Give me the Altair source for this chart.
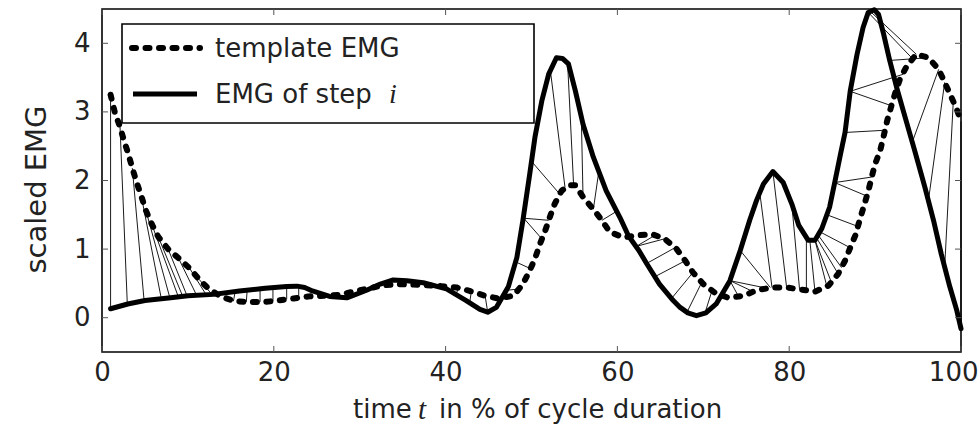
import altair as alt
import pandas as pd

# ---------------- data ----------------
step_t = [1.0, 3.0, 5.0, 8.0, 10.0, 13.0, 16.0, 19.0, 21.5, 22.7,
          23.6, 24.5, 26.5, 28.5, 30.8, 32.4, 33.9, 35.5, 37.4, 40.1,
          42.4, 44.0, 44.9, 45.9, 47.3, 48.3, 49.0, 49.8, 50.4, 51.2,
          52.0, 52.9, 53.6, 54.3, 55.1, 56.0, 57.2, 58.7, 60.3, 61.3,
          62.5, 63.4, 64.9, 66.5, 67.3, 68.2, 69.2, 70.3, 71.5, 73.1,
          74.3, 75.4, 76.2, 77.0, 78.1, 79.3, 80.3, 81.1, 82.2, 83.0,
          83.8, 84.7, 85.3, 86.0, 86.5, 87.1, 87.9, 88.6, 89.2, 89.9,
          90.4, 91.0, 91.7, 92.5, 93.5, 94.6, 95.8, 96.8, 97.7, 98.7,
          99.5, 100.0]
step_emg = [0.13, 0.20, 0.25, 0.29, 0.32, 0.34, 0.39, 0.43, 0.455, 0.46,
            0.44, 0.39, 0.31, 0.29, 0.40, 0.49, 0.55, 0.54, 0.51, 0.42,
            0.25, 0.12, 0.08, 0.15, 0.45, 0.88, 1.42, 2.10, 2.63, 3.16,
            3.55, 3.79, 3.78, 3.70, 3.31, 2.82, 2.34, 1.85, 1.46, 1.19,
            0.98, 0.79, 0.49, 0.25, 0.15, 0.07, 0.03, 0.07, 0.20, 0.54,
            0.98, 1.42, 1.71, 1.95, 2.13, 1.97, 1.66, 1.35, 1.13, 1.13,
            1.30, 1.61, 1.97, 2.40, 2.70, 3.30, 3.84, 4.23, 4.45, 4.49,
            4.42, 4.13, 3.75, 3.36, 2.92, 2.44, 1.90, 1.42, 0.93, 0.45,
            0.11, -0.16]

tmpl_t = [1.0, 1.5, 2.1, 2.56, 3.06, 3.53, 4.04, 4.58, 5.12, 5.77,
          6.55, 7.7, 8.9, 10.2, 11.3, 12.5, 14.0, 15.5, 17.0, 19.0,
          20.5, 22.3, 24.0, 27.5, 30.0, 32.7, 34.3, 37.0, 39.5, 41.3,
          42.8, 44.6, 46.1, 47.9, 49.0, 49.8, 50.4, 51.0, 51.6, 52.2,
          52.7, 53.5, 54.3, 55.1, 56.0, 57.2, 58.2, 59.1, 60.7, 62.4,
          64.0, 65.5, 66.9, 67.9, 68.8, 70.0, 71.4, 72.9, 74.7, 76.2,
          78.0, 79.7, 81.4, 83.0, 84.6, 85.7, 86.5, 87.1, 87.7, 88.2,
          88.7, 89.2, 89.6, 90.0, 90.6, 91.0, 91.4, 91.9, 92.4, 92.9,
          93.7, 94.8, 96.2, 97.4, 98.1, 98.9, 99.5, 100.0]
tmpl_emg = [3.25, 2.99, 2.78, 2.58, 2.39, 2.18, 1.97, 1.77, 1.56, 1.37,
            1.18, 1.00, 0.87, 0.72, 0.56, 0.41, 0.30, 0.24, 0.23, 0.23,
            0.25, 0.28, 0.31, 0.33, 0.40, 0.47, 0.49, 0.48, 0.46, 0.44,
            0.39, 0.32, 0.28, 0.32, 0.49, 0.69, 0.86, 1.08, 1.27, 1.49,
            1.66, 1.85, 1.93, 1.93, 1.76, 1.58, 1.42, 1.25, 1.17, 1.20,
            1.22, 1.15, 1.00, 0.83, 0.66, 0.49, 0.36, 0.29, 0.32, 0.40,
            0.44, 0.44, 0.41, 0.38, 0.47, 0.64, 0.83, 1.02, 1.20, 1.42,
            1.63, 1.84, 2.05, 2.24, 2.44, 2.65, 2.87, 3.09, 3.30, 3.48,
            3.67, 3.84, 3.79, 3.62, 3.43, 3.21, 3.04, 2.86]

# alignment links: template point (link_t1, link_y1) -> step point (link_t2, link_y2)
link_t1 = [1.0, 2.1, 3.53, 4.58, 5.12, 5.77, 6.55, 7.7, 8.9, 10.2, 11.3,
           15.3, 16.8, 18.4, 19.9, 21.5, 22.9, 41.5, 43.0, 44.6,
           48.7, 49.8, 51.2, 52.0, 53.3, 53.9, 54.9, 56.0, 57.2, 58.2,
           64.5, 65.5, 66.7, 67.9, 68.8, 69.8, 71.0, 74.1, 75.8, 77.4, 77.8, 78.0,
           79.7, 81.2, 82.0, 83.0, 84.4, 84.9, 85.7, 86.1, 87.1, 87.8, 88.9, 89.6,
           90.8, 91.9, 93.3, 94.4, 94.8, 96.2, 97.4, 98.1, 99.1, 100.0]
link_y1 = [3.25, 2.78, 2.18, 1.77, 1.56, 1.37, 1.18, 1.00, 0.87, 0.72, 0.56,
           0.24, 0.23, 0.23, 0.24, 0.27, 0.29, 0.43, 0.38, 0.32,
           0.42, 0.72, 1.15, 1.42, 1.80, 1.90, 1.94, 1.76, 1.58, 1.42,
           1.21, 1.15, 1.02, 0.83, 0.66, 0.51, 0.39, 0.31, 0.38, 0.43, 0.44, 0.44,
           0.44, 0.42, 0.40, 0.38, 0.45, 0.52, 0.64, 0.73, 1.02, 1.34, 1.78, 2.05,
           2.73, 3.09, 3.55, 3.77, 3.84, 3.79, 3.62, 3.43, 3.15, 2.86]
link_t2 = [1.0, 2.95, 4.9, 6.9, 7.9, 8.9, 9.4, 9.9, 11.0, 12.1, 12.8,
           15.5, 16.9, 18.4, 19.9, 21.5, 22.9, 41.2, 42.8, 44.9,
           47.1, 48.4, 49.1, 49.1, 50.0, 52.2, 54.2, 55.8, 57.8, 59.9,
           62.2, 62.2, 63.4, 64.4, 66.3, 68.1, 70.2, 73.1, 73.1, 73.1, 74.3, 76.6,
           78.1, 80.3, 82.0, 82.4, 83.0, 83.0, 83.2, 83.4, 83.6, 84.4, 85.3, 85.3,
           86.5, 87.1, 87.1, 89.2, 89.4, 91.7, 94.3, 96.2, 98.1, 100.0]
link_y2 = [0.13, 0.19, 0.25, 0.28, 0.29, 0.30, 0.31, 0.32, 0.33, 0.34, 0.34,
           0.38, 0.40, 0.42, 0.44, 0.455, 0.46, 0.34, 0.22, 0.08,
           0.40, 0.80, 1.45, 1.45, 2.28, 3.60, 3.72, 2.92, 2.10, 1.55,
           1.04, 1.04, 0.79, 0.60, 0.28, 0.08, 0.07, 0.54, 0.54, 0.54, 0.98, 1.80,
           2.13, 1.66, 1.15, 1.13, 1.13, 1.13, 1.16, 1.20, 1.25, 1.50, 1.97, 1.97,
           2.70, 3.30, 3.30, 4.45, 4.47, 3.75, 2.55, 1.70, 0.74, -0.16]

x_ticks = [0, 20, 40, 60, 80, 100]
y_ticks = [0, 1, 2, 3, 4]

# ---------------- styling ----------------
W, H = 859, 343
FONT = "DejaVu Sans"
TXT = "#222222"
xs = alt.Scale(domain=[0, 100], nice=False, zero=False)
ys = alt.Scale(domain=[-0.5, 4.5], nice=False, zero=False)

x_axis = alt.Axis(values=x_ticks, title=None, ticks=False, domain=False, grid=False,
                  labelFont=FONT, labelFontSize=26, labelColor=TXT, labelPadding=7,
                  labelFlush=False, labelOverlap=False, format="d",
                  labelAlign={"condition": {"test": "datum.value == 100", "value": "right"},
                              "value": "center"},
                  labelOffset={"condition": {"test": "datum.value == 100", "value": 17},
                               "value": 0})
y_axis = alt.Axis(values=y_ticks, title="scaled EMG", ticks=False, domain=False, grid=False,
                  labelFont=FONT, labelFontSize=26, labelColor=TXT, labelPadding=12,
                  labelFlush=False, labelOverlap=False,
                  format="d", titleFont=FONT, titleFontSize=29, titleFontWeight="normal",
                  titleColor=TXT, titlePadding=22, titleY=180)

step_df = pd.DataFrame({"t": step_t, "emg": step_emg})
tmpl_df = pd.DataFrame({"t": tmpl_t, "emg": tmpl_emg})
links_df = pd.DataFrame({"t1": link_t1, "y1": link_y1, "t2": link_t2, "y2": link_y2})
one = pd.DataFrame({"k": [0]})


def X(f):
    return alt.X(f, scale=xs, axis=x_axis)


def Y(f):
    return alt.Y(f, scale=ys, axis=y_axis)


links = alt.Chart(links_df).mark_rule(color="black", strokeWidth=0.9).encode(
    x=X("t1:Q"), y=Y("y1:Q"), x2="t2:Q", y2="y2:Q")

tmpl_line = alt.Chart(tmpl_df).mark_line(
    color="black", strokeWidth=6, strokeDash=[4, 9.5], strokeCap="round", strokeJoin="round"
).encode(x=X("t:Q"), y=Y("emg:Q"))

step_line = alt.Chart(step_df).mark_line(
    color="black", strokeWidth=5, strokeJoin="round", strokeCap="round"
).encode(x=X("t:Q"), y=Y("emg:Q"))

xt = pd.DataFrame({"v": x_ticks})
yt = pd.DataFrame({"v": y_ticks})
TK = dict(color="#555555", strokeWidth=1)
tick_b = alt.Chart(xt).mark_rule(**TK).encode(x=X("v:Q"), y=alt.value(H), y2=alt.value(H - 6))
tick_t = alt.Chart(xt).mark_rule(**TK).encode(x=X("v:Q"), y=alt.value(0), y2=alt.value(6))
tick_l = alt.Chart(yt).mark_rule(**TK).encode(y=Y("v:Q"), x=alt.value(0), x2=alt.value(6))
tick_r = alt.Chart(yt).mark_rule(**TK).encode(y=Y("v:Q"), x=alt.value(W), x2=alt.value(W - 6))

# legend (drawn by hand to match the reference)
leg_box = alt.Chart(one).mark_rect(fill="white", stroke="black", strokeWidth=1.6).encode(
    x=alt.value(20), x2=alt.value(432), y=alt.value(15), y2=alt.value(114))
leg_dash = alt.Chart(one).mark_rule(color="black", strokeWidth=6, strokeDash=[4, 9.5],
                                    strokeCap="round").encode(
    x=alt.value(30), x2=alt.value(98), y=alt.value(39))
leg_solid = alt.Chart(one).mark_rule(color="black", strokeWidth=5).encode(
    x=alt.value(31), x2=alt.value(95), y=alt.value(85))
leg_t1 = alt.Chart(one).mark_text(align="left", baseline="middle", font=FONT, fontSize=26,
                                  color=TXT, text="template EMG").encode(x=alt.value(113), y=alt.value(40))
leg_t2 = alt.Chart(one).mark_text(align="left", baseline="middle", font=FONT, fontSize=26,
                                  color=TXT, text="EMG of step").encode(x=alt.value(113), y=alt.value(86))
leg_i = alt.Chart(one).mark_text(align="left", baseline="middle", font="Liberation Serif",
                                 fontStyle="italic", fontSize=28, color=TXT,
                                 text="i").encode(x=alt.value(287), y=alt.value(86))

# x axis title with italic t
xt1 = alt.Chart(one).mark_text(align="left", baseline="middle", font=FONT, fontSize=26,
                               color=TXT, text="time").encode(x=alt.value(251), y=alt.value(401))
xt2 = alt.Chart(one).mark_text(align="left", baseline="middle", font="Liberation Serif",
                               fontStyle="italic", fontSize=29, color=TXT,
                               text="t").encode(x=alt.value(316), y=alt.value(401))
xt3 = alt.Chart(one).mark_text(align="left", baseline="middle", font=FONT, fontSize=26,
                               color=TXT, text="in % of cycle duration").encode(x=alt.value(337), y=alt.value(401))

chart = alt.layer(
    links, tmpl_line, step_line, tick_b, tick_t, tick_l, tick_r,
    leg_box, leg_dash, leg_solid, leg_t1, leg_t2, leg_i, xt1, xt2, xt3
).properties(
    width=W, height=H,
    padding={"left": 102, "top": 9, "right": 19, "bottom": 85},
    autosize=alt.AutoSizeParams(type="none"),
    background="white",
).configure_view(stroke="black", strokeWidth=1.6)

chart.save("out.html", embed_options={"renderer": "svg", "actions": False})
